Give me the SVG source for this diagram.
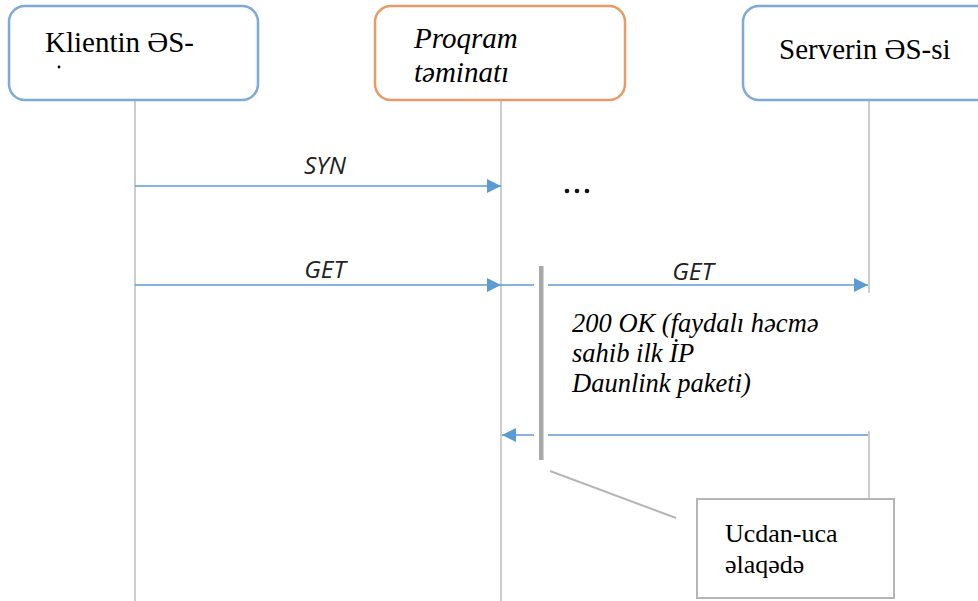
<svg xmlns="http://www.w3.org/2000/svg" width="978" height="601" viewBox="0 0 978 601">
<style>
.box{fill:#fff;stroke-width:2.5}
.blue{stroke:#7ea9d8}
.orange{stroke:#ea9a66}
.life{stroke:#bdbdbd;stroke-width:1.5;fill:none}
.msg{stroke:#5b9bd5;stroke-width:1.5;fill:none}
.serif{font-family:"Liberation Serif","DejaVu Serif",serif;fill:#000}
.lbl{font-family:"Open Sans","Liberation Sans",sans-serif;font-style:italic;font-size:24.5px;fill:#222}
</style>
<defs>
<marker id="ah" viewBox="0 0 10 10" refX="10" refY="5" markerWidth="15" markerHeight="14" markerUnits="userSpaceOnUse" orient="auto">
<path d="M0,0 L10,5 L0,10 z" fill="#5b9bd5"/>
</marker>
</defs>
<rect width="978" height="601" fill="#fff"/>
<g id="lifelines">
<line class="life" x1="135" y1="100" x2="135" y2="601"/>
<line class="life" x1="501" y1="100" x2="501" y2="601"/>
<line class="life" x1="869" y1="100" x2="869" y2="293"/>
<line class="life" x1="869" y1="431" x2="869" y2="499"/>
</g>
<g id="client">
<rect class="box blue" x="9" y="6" width="249" height="94" rx="16"/>
<text class="serif" x="45" y="52" font-size="29">Klientin ƏS-</text>
<circle cx="59" cy="67" r="1.4" fill="#000"/>
</g>
<g id="program">
<rect class="box orange" x="375" y="6" width="250" height="94" rx="16"/>
<text class="serif" x="414" y="48" font-size="29" font-style="italic">Proqram</text>
<text class="serif" x="414" y="82" font-size="29" font-style="italic">təminatı</text>
</g>
<g id="server">
<rect class="box blue" x="743" y="6" width="260" height="94" rx="16"/>
<text class="serif" x="779" y="59" font-size="29">Serverin ƏS-si</text>
</g>
<g id="connectors">
<line class="msg" x1="135" y1="186" x2="501" y2="186" marker-end="url(#ah)"/>
<text class="lbl" x="325" y="174" text-anchor="middle">SYN</text>
<line class="msg" x1="135" y1="285" x2="501" y2="285" marker-end="url(#ah)"/>
<text class="lbl" x="325" y="278" text-anchor="middle">GET</text>
<line class="msg" x1="501" y1="285" x2="534" y2="285"/>
<line class="msg" x1="548" y1="285" x2="868" y2="285" marker-end="url(#ah)"/>
<text class="lbl" x="693" y="280" text-anchor="middle">GET</text>
<line class="msg" x1="868" y1="435" x2="548" y2="435"/>
<line class="msg" x1="534" y1="435" x2="502" y2="435" marker-end="url(#ah)"/>
<line x1="550" y1="471" x2="676" y2="518" stroke="#b5b5b5" stroke-width="2"/>
</g>
<g id="activation">
<rect x="539" y="266" width="4.5" height="194" fill="#a8a8a8"/>
</g>
<g id="ellipsis">
<circle cx="567" cy="191" r="2.3" fill="#111"/>
<circle cx="577" cy="191" r="2.3" fill="#111"/>
<circle cx="587" cy="191" r="2.3" fill="#111"/>
</g>
<g id="response-label">
<text class="serif" x="572" y="332" font-size="26.5" font-style="italic">200 OK (faydalı həcmə</text>
<text class="serif" x="572" y="362" font-size="26.5" font-style="italic">sahib ilk İP</text>
<text class="serif" x="572" y="392" font-size="26.5" font-style="italic">Daunlink paketi)</text>
</g>
<g id="note">
<rect x="697" y="499" width="197" height="99" fill="#fff" stroke="#b5b5b5" stroke-width="2"/>
<text class="serif" x="725" y="542" font-size="26">Ucdan-uca</text>
<text class="serif" x="725" y="573" font-size="26">əlaqədə</text>
</g>
</svg>
